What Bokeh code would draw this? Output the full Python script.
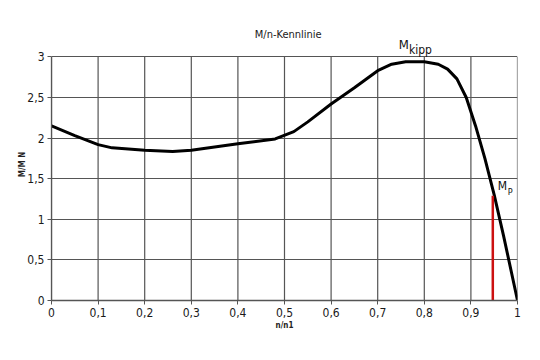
from bokeh.plotting import figure
from bokeh.models import Range1d, FixedTicker, Label
from bokeh.embed import file_html
from bokeh.resources import INLINE

# data
n_ratio = [0, 0.05, 0.1, 0.13, 0.2, 0.26, 0.3, 0.4, 0.48, 0.52, 0.55, 0.6, 0.65, 0.7,
           0.73, 0.76, 0.8, 0.83, 0.85, 0.87, 0.89, 0.91, 0.93, 0.95, 0.97, 1.0]
m_ratio = [2.15, 2.03, 1.92, 1.88, 1.85, 1.835, 1.85, 1.93, 1.99, 2.08, 2.2, 2.42, 2.62, 2.83,
           2.91, 2.94, 2.94, 2.91, 2.85, 2.73, 2.5, 2.15, 1.75, 1.3, 0.8, 0.0]
mp_x = 0.947
mp_y = 1.29
kipp_x = 0.767
x_ticks = [0, 0.1, 0.2, 0.3, 0.4, 0.5, 0.6, 0.7, 0.8, 0.9, 1]
x_labels = ["0", "0,1", "0,2", "0,3", "0,4", "0,5", "0,6", "0,7", "0,8", "0,9", "1"]
y_ticks = [0, 0.5, 1, 1.5, 2, 2.5, 3]
y_labels = ["0", "0,5", "1", "1,5", "2", "2,5", "3"]

FONT = "'DejaVu Sans Condensed', 'Liberation Sans', sans-serif"
Y_TOP = 3.35
GRID = "#555555"

p = figure(width=540, height=360, output_backend="svg", toolbar_location=None,
           x_range=Range1d(0, 1), y_range=Range1d(0, Y_TOP),
           min_border_left=51, min_border_right=23, min_border_top=28, min_border_bottom=60)
p.background_fill_color = "white"
p.border_fill_color = "white"
p.outline_line_color = None

for ax in (p.xaxis[0], p.yaxis[0]):
    ax.axis_line_color = GRID
    ax.axis_line_width = 1.3
    ax.major_tick_line_color = GRID
    ax.major_tick_in = 0
    ax.major_tick_out = 4
    ax.minor_tick_line_color = None
    ax.major_label_text_font = FONT
    ax.major_label_text_font_size = "12px"
    ax.major_label_text_color = "#1a1a1a"
    ax.axis_label_text_font = FONT
    ax.axis_label_text_font_size = "8px"
    ax.axis_label_text_font_style = "bold"
    ax.axis_label_text_color = "#222222"

p.xaxis.ticker = FixedTicker(ticks=x_ticks)
p.xaxis.major_label_overrides = {t: l for t, l in zip(x_ticks, x_labels)}
p.yaxis.ticker = FixedTicker(ticks=y_ticks)
p.yaxis.major_label_overrides = {t: l for t, l in zip(y_ticks, y_labels)}
p.yaxis.bounds = (0, 3)
p.xaxis.axis_label = "n/n1"
p.yaxis.axis_label = "M/M N"
p.xaxis.axis_label_standoff = 1
p.yaxis.axis_label_standoff = -3
p.xaxis.major_label_standoff = 3
p.yaxis.major_label_standoff = 3

p.xgrid.visible = False
p.ygrid.grid_line_color = GRID
p.ygrid.grid_line_width = 1.2
p.ygrid.grid_line_alpha = 1.0
# vertical grid lines only up to y = 3
p.segment(x0=x_ticks, y0=[0] * len(x_ticks), x1=x_ticks, y1=[3] * len(x_ticks),
          line_color=GRID, line_width=1.2, level="underlay")

p.line(n_ratio, m_ratio, line_color="black", line_width=3, line_join="round")
p.segment(x0=[mp_x], y0=[0], x1=[mp_x], y1=[mp_y], line_color="#cc1111", line_width=2.5)

p.add_layout(Label(x=0.508, y=3.28, text="M/n-Kennlinie",
                   text_font=FONT, text_font_size="11px", text_align="center",
                   text_baseline="middle", text_color="#1a1a1a"))
p.add_layout(Label(x=kipp_x, y=3, text="M", text_font=FONT, text_font_size="13px",
                   text_align="right", text_baseline="alphabetic", y_offset=12,
                   text_color="#111111"))
p.add_layout(Label(x=kipp_x, y=3, text="kipp", text_font=FONT, text_font_size="12px",
                   text_align="left", text_baseline="alphabetic", y_offset=7,
                   text_color="#111111"))
p.add_layout(Label(x=mp_x, y=mp_y, text="M", text_font=FONT, text_font_size="12px",
                   text_align="left", text_baseline="bottom", x_offset=5, y_offset=3,
                   text_color="#111111"))
p.add_layout(Label(x=mp_x, y=mp_y, text="P", text_font=FONT, text_font_size="9px",
                   text_align="left", text_baseline="bottom", x_offset=15, y_offset=-1,
                   text_color="#111111"))

open("out.html", "w").write(file_html(p, INLINE))
